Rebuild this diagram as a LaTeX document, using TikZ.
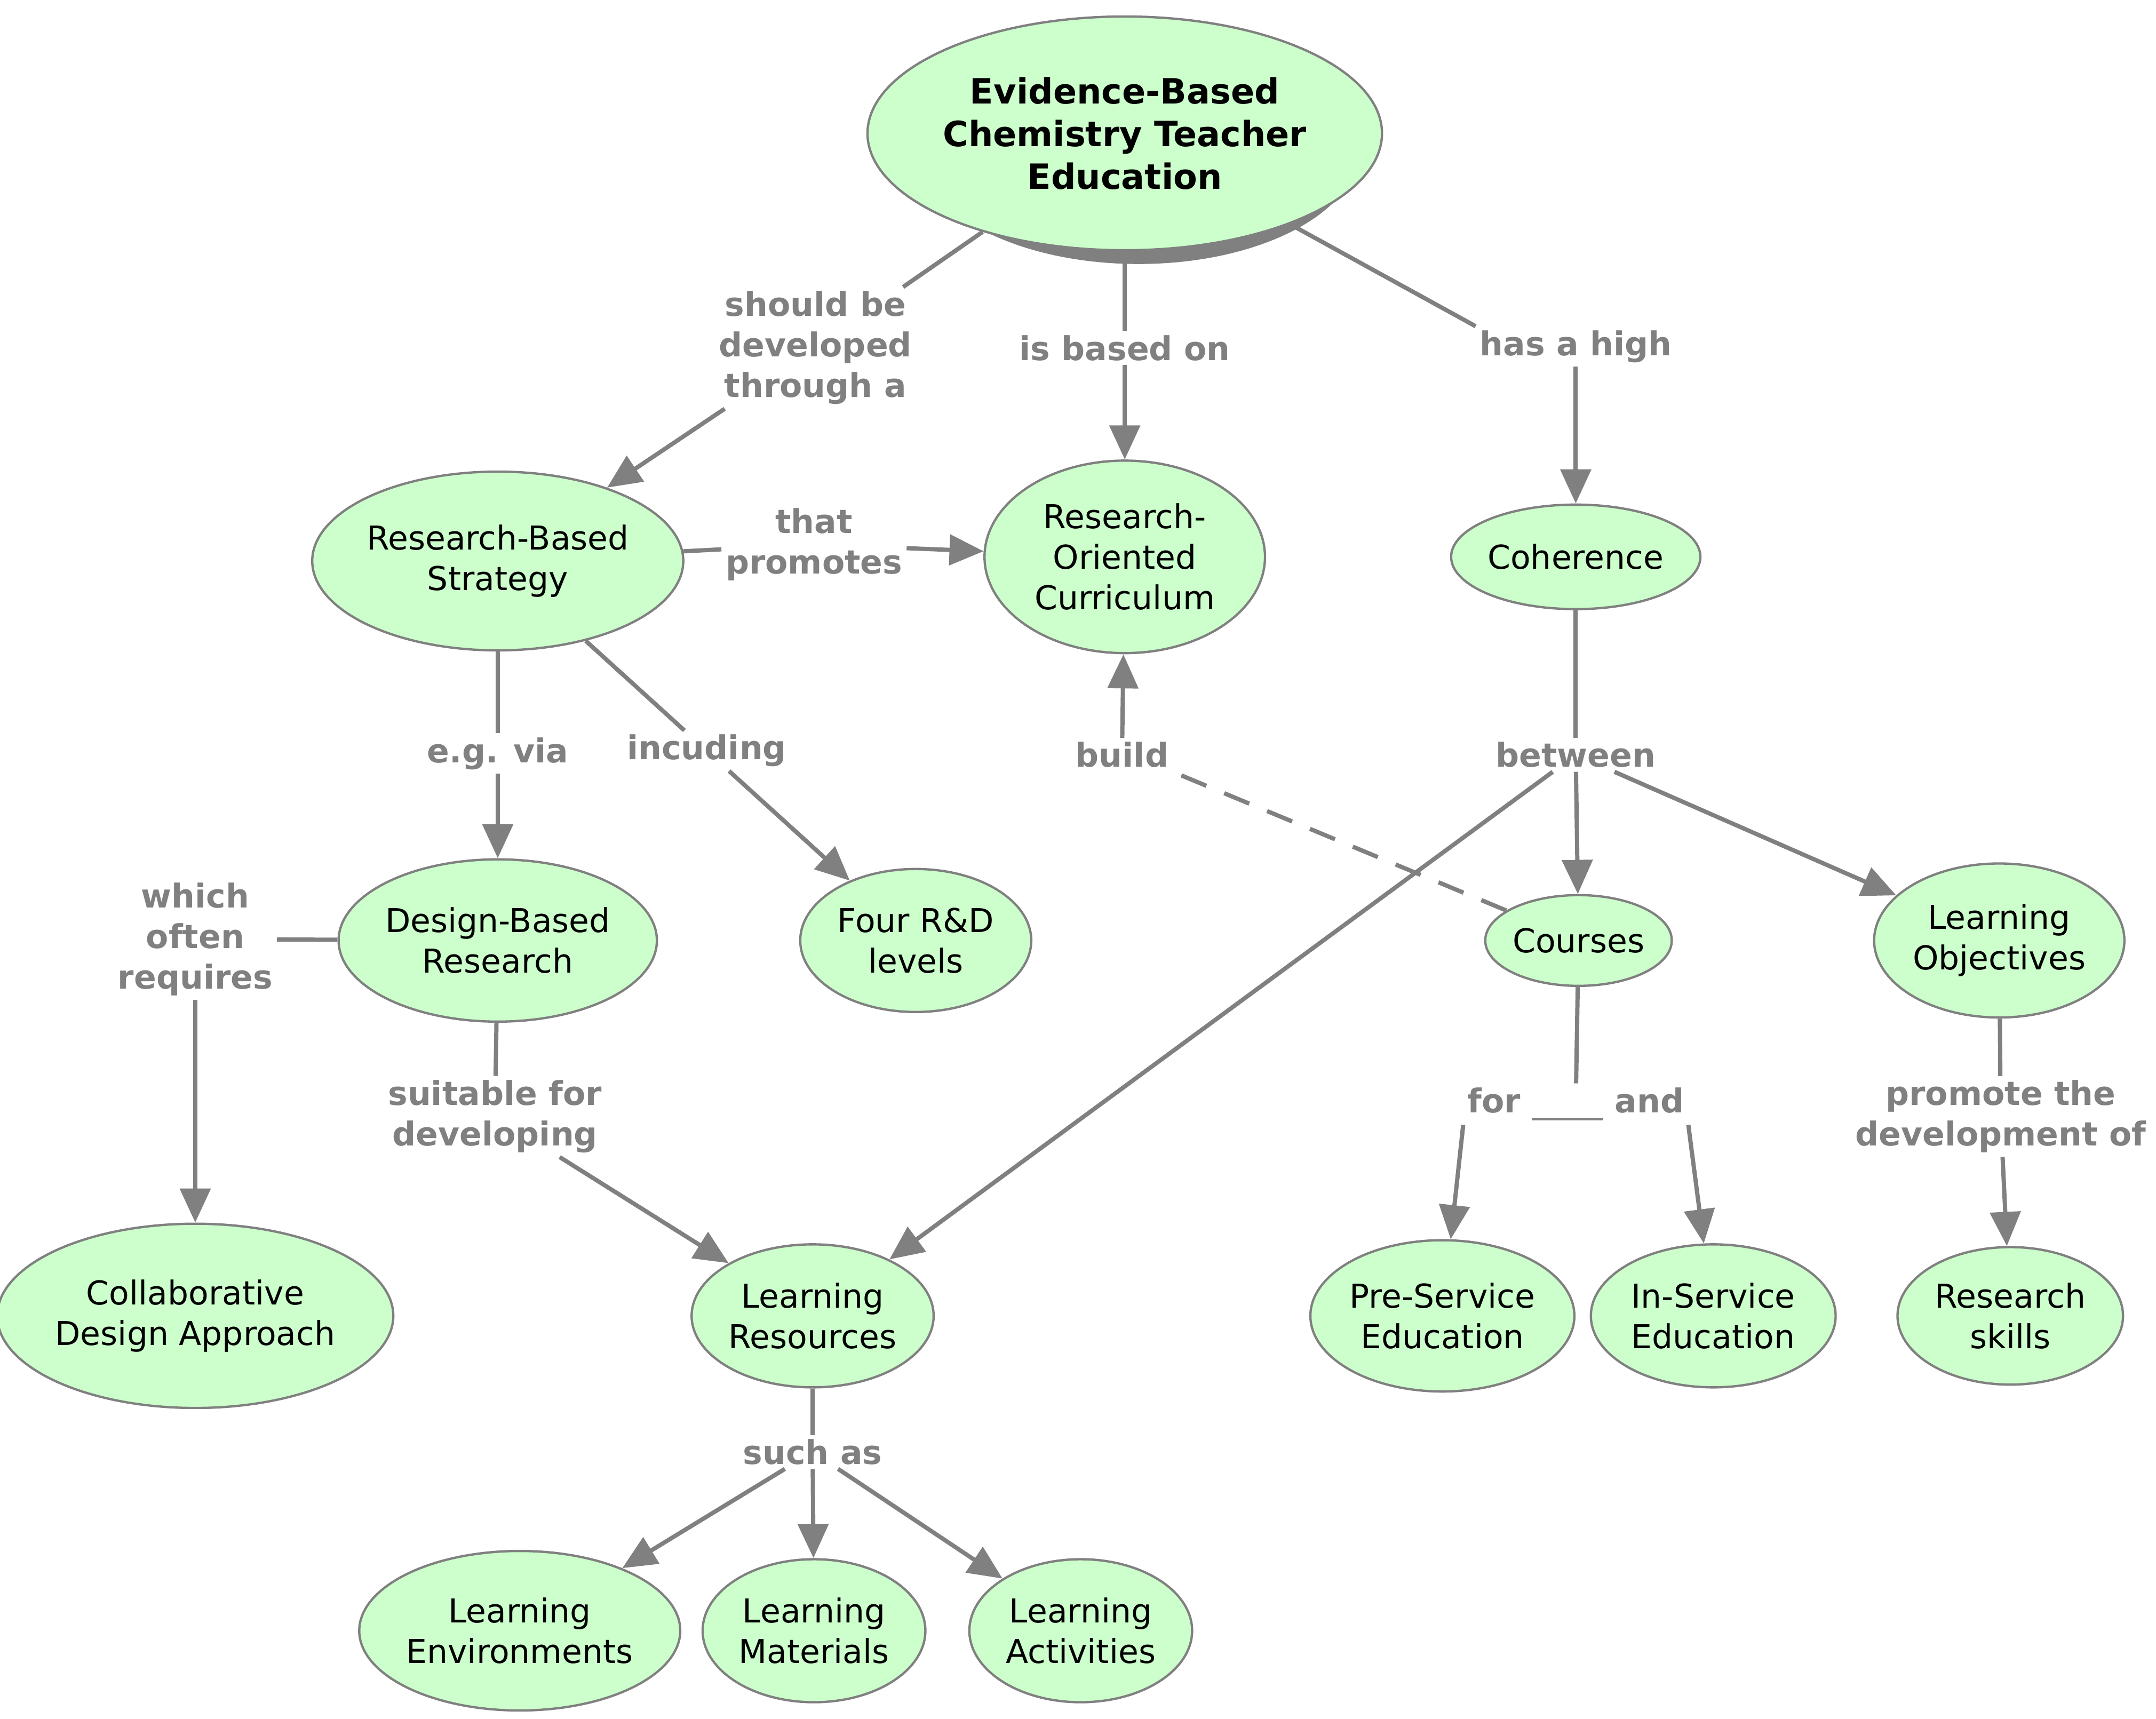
\documentclass[tikz,border=0pt]{standalone}
\usepackage{fontspec}
\setmainfont{DejaVu Sans}
\usetikzlibrary{shapes.geometric,arrows.meta}
\definecolor{conc}{RGB}{204,255,204}
\definecolor{lnk}{RGB}{128,128,128}
\tikzset{
  concept/.style 2 args={ellipse,draw=lnk,line width=1.2pt,fill=conc,inner sep=0pt,
    minimum width=0.025cm*#1,minimum height=0.025cm*#2,align=center,
    font=\fontsize{17}{21}\selectfont},
  phrase/.style={text=lnk,font=\fontsize{17}{21}\selectfont\bfseries,align=center,inner sep=2pt},
  link/.style={draw=lnk,line width=2.2pt},
  arr/.style={link,-{Triangle[length=0.62cm,width=0.55cm]}}
}
\begin{document}
\begin{tikzpicture}[x=0.025cm,y=-0.025cm]
\useasboundingbox (0,0) rectangle (1568,1250);
% concepts
\fill[lnk] (828,107) ellipse [x radius=161,y radius=85];
\node[concept={322}{170},font=\fontsize{18}{22}\selectfont\bfseries] (ebcte) at (818,97) {Evidence-Based\\Chemistry Teacher\\Education};
\node[concept={250}{130}] (rbs) at (362,408) {Research-Based\\Strategy};
\node[concept={204}{140}] (roc) at (818,405) {Research-\\Oriented\\Curriculum};
\node[concept={164}{76}] (coh) at (1146,405) {Coherence};
\node[concept={220}{118}] (dbr) at (362,684) {Design-Based\\Research};
\node[concept={168}{104}] (four) at (666,684) {Four R\&D\\levels};
\node[concept={132}{66}] (courses) at (1148,684) {Courses};
\node[concept={182}{112}] (lo) at (1454,684) {Learning\\Objectives};
\node[concept={260}{134}] (cda) at (142,957) {Collaborative\\Design Approach};
\node[concept={176}{104}] (lr) at (591,957) {Learning\\Resources};
\node[concept={192}{110}] (pse) at (1049,957) {Pre-Service\\Education};
\node[concept={178}{104}] (ise) at (1246,957) {In-Service\\Education};
\node[concept={164}{100}] (rs) at (1462,957) {Research\\skills};
\node[concept={220}{116}] (le) at (378,1186) {Learning\\Environments};
\node[concept={162}{104}] (lm) at (592,1186) {Learning\\Materials};
\node[concept={162}{104}] (la) at (786,1186) {Learning\\Activities};
% linking phrases
\node[phrase] (p1) at (593,253) {should be\\developed\\through a};
\node[phrase] (p2) at (818,253) {is based on};
\node[phrase] (p3) at (1146,252) {has a high};
\node[phrase] (p4) at (592,396) {that\\promotes};
\node[phrase] (p5) at (362,548) {e.g. via};
\node[phrase] (p6) at (514,546) {incuding};
\node[phrase] (p7) at (816,549) {build};
\node[phrase] (p8) at (1146,549) {between};
\node[phrase] (p9) at (142,683) {which\\often\\requires};
\node[phrase] (p10) at (360,812) {suitable for\\developing};
\node[phrase] (p11) at (1146,803) {for \textcolor{lnk}{\rule[-0.45ex]{1.3cm}{1.2pt}} and};
\node[phrase] (p12) at (1455,812) {promote the\\development of};
\node[phrase] (p13) at (591,1056) {such as};
% connections
\draw[link] (ebcte) -- (p1);
\draw[arr] (p1) -- (rbs);
\draw[link] (ebcte) -- (p2);
\draw[arr] (p2) -- (roc);
\draw[link] (ebcte) -- (p3.north west);
\draw[arr] (p3) -- (coh);
\draw[link] (rbs) -- (p4);
\draw[arr] (p4) -- (roc);
\draw[link] (rbs) -- (p5);
\draw[arr] (p5) -- (dbr);
\draw[link] (rbs) -- (p6);
\draw[arr] (p6) -- (four);
\draw[link,dash pattern=on 14pt off 10pt] (courses) -- (p7.south east);
\draw[arr] (p7) -- (roc);
\draw[link] (coh) -- (p8);
\draw[arr] (p8) -- (courses);
\draw[arr] (p8) -- (lo);
\draw[arr] (p8) -- (lr);
\draw[link] (dbr) -- (p9);
\draw[arr] (p9) -- (cda);
\draw[link] (dbr) -- (p10);
\draw[arr] (p10) -- (lr);
\draw[link] (courses) -- (p11);
\draw[arr] (p11.south west) -- (pse);
\draw[arr] (p11.south east) -- (ise);
\draw[link] (lo) -- (p12);
\draw[arr] (p12) -- (rs);
\draw[link] (lr) -- (p13);
\draw[arr] (p13) -- (le);
\draw[arr] (p13) -- (lm);
\draw[arr] (p13) -- (la);
\end{tikzpicture}
\end{document}
